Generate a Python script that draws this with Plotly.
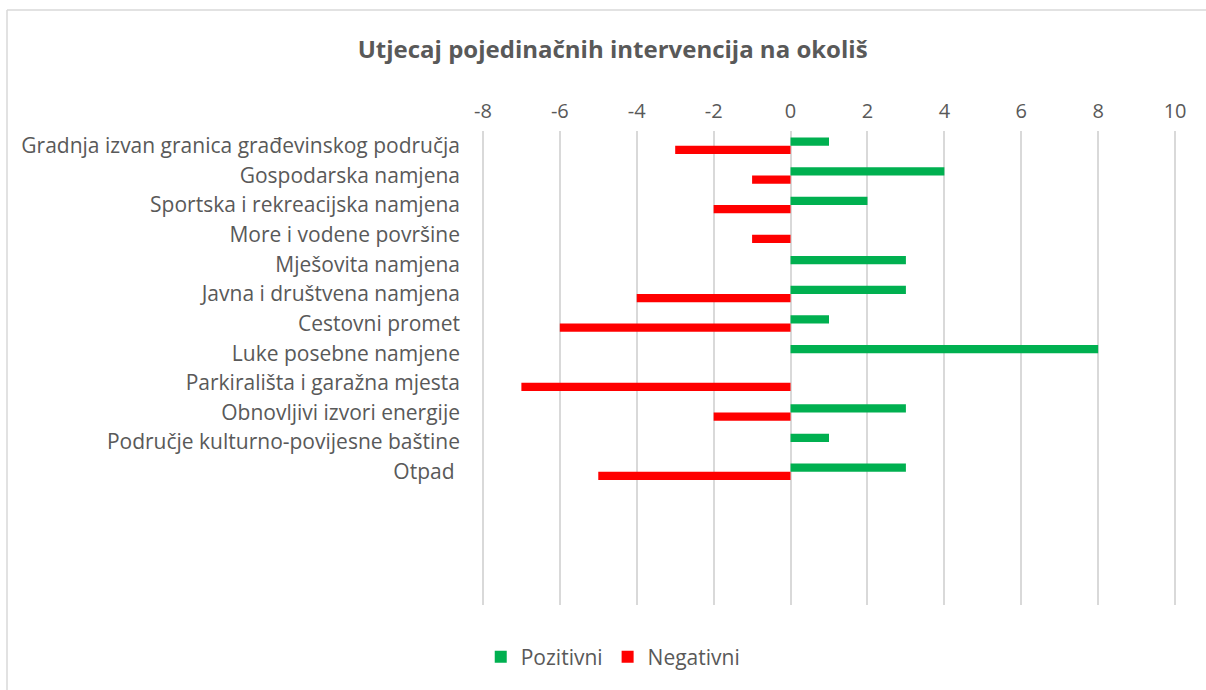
import plotly.graph_objects as go

categories = [
    "Gradnja izvan granica građevinskog područja",
    "Gospodarska namjena",
    "Sportska i rekreacijska namjena",
    "More i vodene površine",
    "Mješovita namjena",
    "Javna i društvena namjena",
    "Cestovni promet",
    "Luke posebne namjene",
    "Parkirališta i garažna mjesta",
    "Obnovljivi izvori energije",
    "Područje kulturno-povijesne baštine",
    "Otpad ",
    "", "", "", "",
]
pozitivni = [1, 4, 2, 0, 3, 3, 1, 8, 0, 3, 1, 3, None, None, None, None]
negativni = [-3, -1, -2, -1, 0, -4, -6, 0, -7, -2, 0, -5, None, None, None, None]
x_ticks = [-8, -6, -4, -2, 0, 2, 4, 6, 8, 10]
x_tick_labels = [str(v) for v in x_ticks]

W, H = 1206, 690
L, R, T, B = 481, 1177, 131, 605

positions = list(range(len(categories)))
FONT = "'Open Sans', Lato, sans-serif"
GREY = "#595959"

fig = go.Figure()
fig.add_trace(go.Bar(y=positions, x=pozitivni, orientation="h", name="Pozitivni",
                     marker=dict(color="#00b050", line=dict(width=0))))
fig.add_trace(go.Bar(y=positions, x=negativni, orientation="h", name="Negativni",
                     marker=dict(color="#ff0000", line=dict(width=0))))

def px(xp):
    return (xp - L) / (R - L)

def py(yp):
    return (B - yp) / (B - T)

fig.update_layout(
    width=W, height=H,
    margin=dict(l=L, r=W - R, t=T, b=H - B),
    paper_bgcolor="white", plot_bgcolor="white",
    barmode="group", bargap=0.44, bargroupgap=0,
    font=dict(family=FONT, color=GREY, size=20),
    title=dict(text="<b>Utjecaj pojedinačnih intervencija na okoliš</b>",
               x=0.508, xanchor="center", y=1 - 50 / H, yanchor="middle",
               font=dict(size=24, color=GREY, family=FONT)),
    xaxis=dict(side="top", range=[-8.05, 10.05], tickvals=x_ticks, ticktext=x_tick_labels,
               showgrid=True, gridcolor="#d9d9d9", gridwidth=1.5,
               zeroline=False, showline=False, ticks="",
               tickfont=dict(size=20, color=GREY), ticklabelstandoff=8),
    yaxis=dict(range=[15.5, -0.5], tickvals=positions, ticktext=categories,
               showgrid=False, zeroline=False, showline=False, ticks="",
               tickfont=dict(size=21, color=GREY), ticklabelstandoff=20),
    legend=dict(orientation="h", x=0.19, xanchor="center", y=-0.11, yanchor="middle",
                font=dict(size=21, color=GREY), itemwidth=30, traceorder="normal"),
    showlegend=True,
    shapes=[
        dict(type="line", xref="paper", yref="paper", x0=px(7), x1=px(1210),
             y0=py(10), y1=py(10), line=dict(color="#d9d9d9", width=1.5)),
        dict(type="line", xref="paper", yref="paper", x0=px(7), x1=px(7),
             y0=py(10), y1=py(700), line=dict(color="#d9d9d9", width=1.5)),
    ],
)

fig.write_html("out.html", config={"displayModeBar": False},
               post_script="document.body.style.margin='0';document.body.style.overflow='hidden';")
